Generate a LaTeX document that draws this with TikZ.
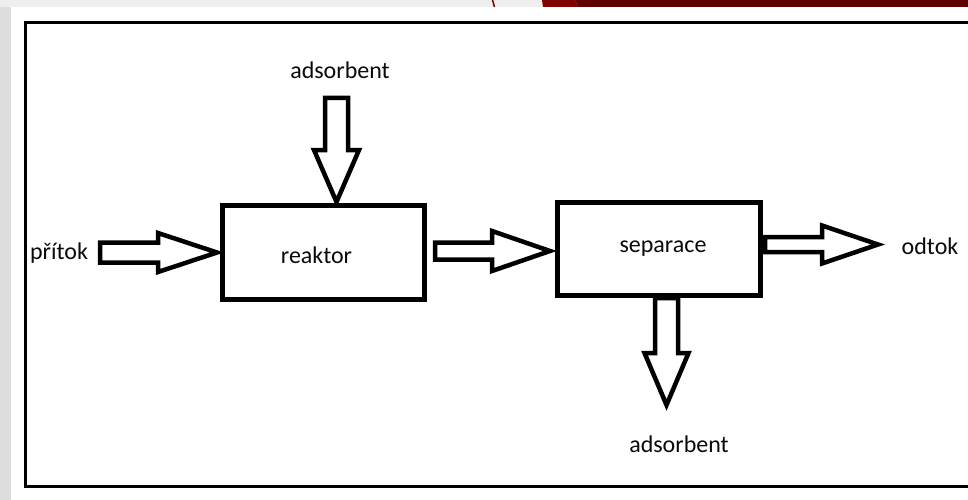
\documentclass[tikz,border=0pt]{standalone}
\usepackage{fontspec}
\setmainfont{Carlito}
\definecolor{bggray}{HTML}{EEEEEE}
\definecolor{sidegray}{HTML}{DDDDDD}
\definecolor{redA}{HTML}{800000}
\definecolor{redB}{HTML}{600000}
\definecolor{textblk}{HTML}{0A0A0A}
\tikzset{
  procbox/.style={draw=black, line width=5pt, fill=white, inner sep=0pt},
  lbl/.style={font=\fontsize{24}{28}\selectfont, text=textblk, inner sep=0pt},
  arrowline/.style={draw=black, line width=4.5pt, line join=miter, fill=white},
  pics/rightarrow/.style n args={4}{code={
    \draw[arrowline] (0,-#2) -- ({#1-#4},-#2) -- ({#1-#4},-#3) -- (#1,0)
      -- ({#1-#4},#3) -- ({#1-#4},#2) -- (0,#2) -- cycle;}},
  pics/downarrow/.style n args={4}{code={
    \draw[arrowline] (-#2,0) -- (-#2,{#1-#4}) -- (-#3,{#1-#4}) -- (0,#1)
      -- (#3,{#1-#4}) -- (#2,{#1-#4}) -- (#2,0) -- cycle;}}
}
\begin{document}
\begin{tikzpicture}[x=1pt,y=-1pt]
\useasboundingbox (0,0) rectangle (968,500);
% background
\fill[bggray] (0,0) rectangle (968,500);
\fill[sidegray] (0,7) rectangle (11,500);
\fill[white] (11,7) rectangle (968,500);
\fill[redA] (542,0) -- (575,0) -- (578,7) -- (543,7) -- cycle;
\fill[redB] (575,0) -- (968,0) -- (968,7) -- (578,7) -- cycle;
\draw[redA, line width=1.5pt] (492.5,0) -- (494.5,7);
% frame
\draw[line width=3.5pt] (25.5,22.5) rectangle (980,486.5);
% block arrows
\pic at (100,252.5) {rightarrow={117}{10}{19.5}{59}};
\pic at (336.5,98) {downarrow={104}{11.5}{22.5}{52}};
\pic at (435,251) {rightarrow={115}{8.5}{20}{58}};
\pic at (666.5,298) {downarrow={107}{11.5}{22}{52}};
\pic at (765,244.5) {rightarrow={113}{7.5}{19}{56}};
% boxes
\node[procbox, minimum width=202.5pt, minimum height=93.5pt] (reaktor) at (323.25,252.25) {};
\node[lbl] (reaktortxt) at (316.5,255) {reaktor};
\node[procbox, minimum width=203pt, minimum height=93pt] (separace) at (659,249) {};
\node[lbl] (separacetxt) at (663,249) {separace};
% labels
\node[lbl] (pritok) at (59,253) {přítok};
\node[lbl] (adsin) at (340,70) {adsorbent};
\node[lbl] (adsout) at (679,444) {adsorbent};
\node[lbl] (odtok) at (930,246) {odtok};
\end{tikzpicture}
\end{document}
